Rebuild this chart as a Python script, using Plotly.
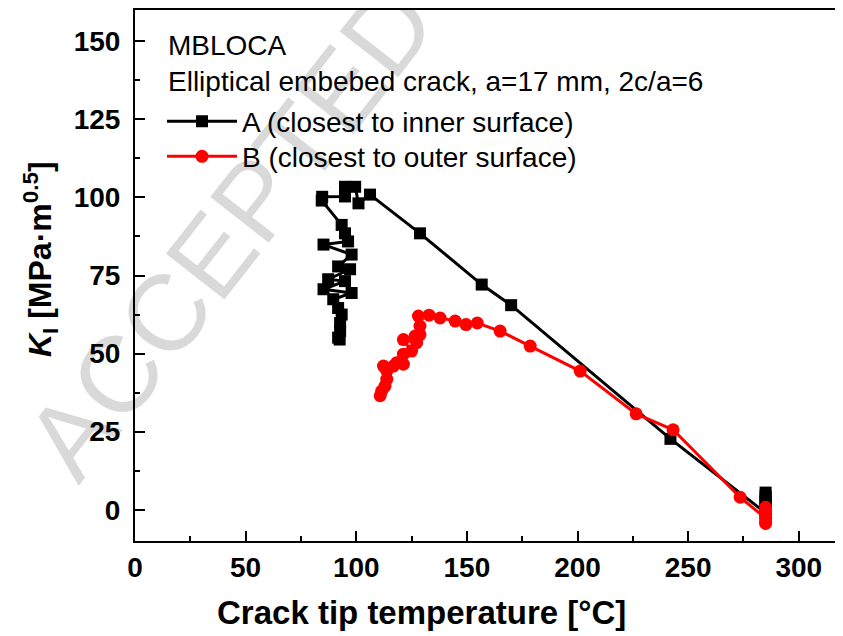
import plotly.graph_objects as go

# Series A (closest to inner surface): crack tip temperature [°C], K_I [MPa·m^0.5]
a_temp = [285, 285, 285, 285, 285, 285, 285, 285, 242, 170, 156.7, 128.8, 106.2, 101,
          99.5, 94.9, 94.9, 84.6, 84.4, 93.4, 94.9, 96.3, 85.2, 97.9, 91.8, 97.2,
          87.3, 94.9, 85.2, 97.9, 89.6, 91.8, 93.4, 92.7, 92.7, 91.8, 92.5]
a_k = [5.5, 4.5, 3.5, 2.5, 1.5, 0.5, -0.5, -1.0, 22.7, 65.5, 72.1, 88.5, 100.9, 98.1,
       103.4, 103.4, 100.3, 100.2, 99.0, 91.2, 88.5, 85.9, 84.9, 81.7, 77.9, 77.0,
       73.8, 73.2, 70.6, 69.4, 67.4, 64.6, 62.5, 59.8, 57.2, 55.1, 54.5]

# Series B (closest to outer surface)
b_temp = [285, 285, 285, 285, 285, 285, 273.5, 243.2, 226.5, 201.2, 178.6, 165, 154.7,
          149.6, 144.7, 137.9, 132.9, 128.1, 128.8, 128.8, 126.6, 127.3, 121.3, 125,
          121.3, 118.3, 121.3, 116.8, 112.3, 113.8, 113.8, 113, 111.5, 110.8]
b_k = [0.8, -0.3, -1.5, -4.4, -3.8, -2.7, 4.0, 25.6, 30.7, 44.4, 52.4, 57.2, 59.8,
       59.3, 60.4, 61.4, 62.3, 62.0, 58.8, 56.1, 55.6, 53.5, 54.5, 50.8,
       49.8, 47.1, 46.6, 46.0, 46.0, 44.4, 41.8, 39.6, 38.0, 36.5]

x_ticks = [0, 50, 100, 150, 200, 250, 300]
y_ticks = [0, 25, 50, 75, 100, 125, 150]

FONT = "Liberation Sans, Arial, sans-serif"

fig = go.Figure()
fig.add_trace(go.Scatter(
    x=a_temp, y=a_k, mode="lines+markers", name="A (closest to inner surface)",
    line=dict(color="black", width=3),
    marker=dict(symbol="square", size=12, color="black"),
    legend="legend",
))
fig.add_trace(go.Scatter(
    x=b_temp, y=b_k, mode="lines+markers", name="B (closest to outer surface)",
    line=dict(color="#ff0000", width=3),
    marker=dict(symbol="circle", size=13, color="#ff0000"),
    legend="legend2",
))

axis_common = dict(
    showgrid=False, zeroline=False, showline=True, linecolor="black", linewidth=2,
    ticks="inside", ticklen=10, tickwidth=2, tickcolor="black",
    tickfont=dict(family=FONT, size=28, color="black", weight="bold"),
)

fig.update_xaxes(
    range=[0, 323.6], tickvals=x_ticks, mirror=True,
    minor=dict(dtick=25, tick0=0, ticks="inside", ticklen=5, tickwidth=2, tickcolor="black"),
    ticklabelstandoff=0, **axis_common,
)
fig.update_yaxes(
    range=[-10, 160], tickvals=y_ticks,
    minor=dict(dtick=12.5, tick0=0, ticks="inside", ticklen=5, tickwidth=2, tickcolor="black"),
    ticklabelstandoff=7, **axis_common,
)

legend_common = dict(
    xanchor="left", yanchor="top",
    font=dict(family=FONT, size=28, color="black"),
    bgcolor="rgba(0,0,0,0)", itemwidth=70,
)

PW = 716.0  # plot width in px
fig.update_layout(
    width=843, height=636,
    margin=dict(l=127, r=0, t=0, b=103),
    paper_bgcolor="white", plot_bgcolor="white",
    font=dict(family=FONT, color="black"),
    showlegend=True,
    legend=dict(x=27 / PW, y=0.8368, **legend_common),
    legend2=dict(x=27 / PW, y=0.771, **legend_common),
    annotations=[
        dict(text="ACCEPTED", xref="paper", yref="paper", x=95 / PW, y=0.583,
             xanchor="center", yanchor="middle",
             showarrow=False, textangle=-52,
             font=dict(family=FONT, size=108, color="rgba(0,0,0,0.15)")),
        dict(text="MBLOCA", xref="paper", yref="paper", x=31 / PW, y=0.934,
             xanchor="left", yanchor="middle", showarrow=False,
             font=dict(family=FONT, size=28, color="black")),
        dict(text="Elliptical embebed crack, a=17 mm, 2c/a=6", xref="paper", yref="paper",
             x=31 / PW, y=0.866, xanchor="left", yanchor="middle", showarrow=False,
             font=dict(family=FONT, size=28, color="black")),
        dict(text="<b>Crack tip temperature [°C]</b>", xref="paper", yref="paper",
             x=(421 - 135) / PW, y=-0.135, xanchor="center", yanchor="middle",
             showarrow=False, font=dict(family=FONT, size=33, color="black")),
        dict(text="<b><i>K</i><sub>I</sub> [MPa·m<sup>0.5</sup>]</b>", xref="paper", yref="paper",
             x=-95 / PW, y=0.531, xanchor="center", yanchor="middle",
             textangle=-90, showarrow=False, font=dict(family=FONT, size=32, color="black")),
    ],
)

fig.write_html("out.html")
